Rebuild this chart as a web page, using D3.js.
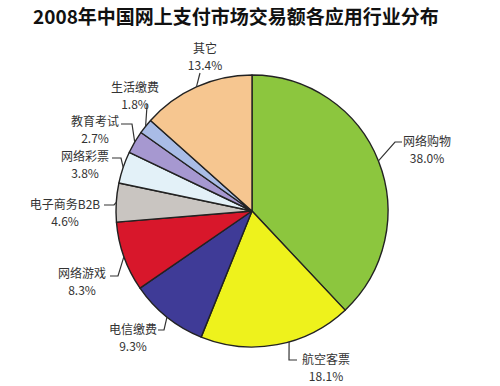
<!DOCTYPE html>
<html>
    <head>
        <meta charset="utf-8">
        <title>2008年中国网上支付市场交易额各应用行业分布</title>
        <script src="https://d3js.org/d3.v7.min.js" charset="utf-8"></script>
        <style type="text/css">
        body {
            margin: 0;
            background: white;
        }

        svg text {
            font-family: 'Noto Sans CJK SC', 'Noto Sans', sans-serif;
        }

        .title {
            font-size: 19px;
            font-weight: bold;
            fill: #111;
        }

        .lbl {
            font-size: 12px;
            fill: #333;
        }

        .leader {
            fill: none;
            stroke: #333;
            stroke-width: 1.2;
        }
    </style>
    </head>
    <body>
        <script type="text/javascript">

        // data
        var categories = ['网络购物', '航空客票', '电信缴费', '网络游戏', '电子商务B2B', '网络彩票', '教育考试', '生活缴费', '其它'];
        var shares     = [38.0, 18.1, 9.3, 8.3, 4.6, 3.8, 2.7, 1.8, 13.4];
        var colors     = ['#8cc63e', '#eef21c', '#3f3b97', '#d8172b', '#c9c5c1', '#e3f1f8', '#a698d0', '#a9bce6', '#f6c690'];

        // label layout: name centre, elbow of leader, end of leader
        var labelPos  = [[427, 140], [326, 358], [133, 328], [82, 272], [65, 203], [85, 155], [95, 120], [135, 86], [205, 47]];
        var elbows    = [[395, 142], [289, 360], [164, 330], [118, 276], [114, 205], [121, 158], [132, 124], [147, 106], [200, 73]];
        var ends      = [[402, 142], [297, 360], [158, 330], [110, 276], [104, 205], [112, 158], [121, 124], [147, 104], [200, 73]];
        var leaderAt  = [0.5, 0.42, 0.5, 0.5, 0.5, 0.5, 0.5, 0.5, 0.5];

        var w = 500;
        var h = 386;
        var cx = 252, cy = 211, r = 136;

        var svg = d3.select('body')
            .append('svg')
            .attr('width', w)
            .attr('height', h)
            .attr('viewBox', '0 0 ' + w + ' ' + h);

        svg.append('text')
            .attr('class', 'title')
            .attr('x', 33)
            .attr('y', 15)
            .attr('dominant-baseline', 'central')
            .text('2008年中国网上支付市场交易额各应用行业分布');

        var pie = d3.pie().sort(null).value(function(d){ return d; });
        var slices = pie(shares);

        var arc = d3.arc().innerRadius(0).outerRadius(r);
        var rim = d3.arc().innerRadius(r).outerRadius(r);

        var g = svg.append('g')
            .attr('transform', 'translate(' + cx + ',' + cy + ')');

        g.selectAll('path.slice')
            .data(slices)
            .enter()
            .append('path')
            .attr('class', 'slice')
            .attr('d', arc)
            .attr('fill', function(d, i){ return colors[i]; })
            .attr('stroke', '#222')
            .attr('stroke-width', 1.4)
            .attr('stroke-linejoin', 'round');

        // leader lines
        svg.selectAll('path.leader')
            .data(slices)
            .enter()
            .append('path')
            .attr('class', 'leader')
            .attr('d', function(d, i){
                var a = d.startAngle + (d.endAngle - d.startAngle) * leaderAt[i];
                var p = rim.centroid({startAngle: a, endAngle: a});
                return 'M' + (cx + p[0]) + ',' + (cy + p[1]) +
                       'L' + elbows[i][0] + ',' + elbows[i][1] +
                       'L' + ends[i][0] + ',' + ends[i][1];
            });

        var labels = svg.selectAll('g.label')
            .data(slices)
            .enter()
            .append('g')
            .attr('class', 'label');

        labels.append('text')
            .attr('class', 'lbl')
            .attr('x', function(d, i){ return labelPos[i][0]; })
            .attr('y', function(d, i){ return labelPos[i][1]; })
            .attr('text-anchor', 'middle')
            .attr('dominant-baseline', 'central')
            .text(function(d, i){ return categories[i]; });

        labels.append('text')
            .attr('class', 'lbl')
            .attr('x', function(d, i){ return labelPos[i][0]; })
            .attr('y', function(d, i){ return labelPos[i][1] + 17; })
            .attr('text-anchor', 'middle')
            .attr('dominant-baseline', 'central')
            .text(function(d, i){ return shares[i].toFixed(1) + '%'; });

        </script>
    </body>
</html>
